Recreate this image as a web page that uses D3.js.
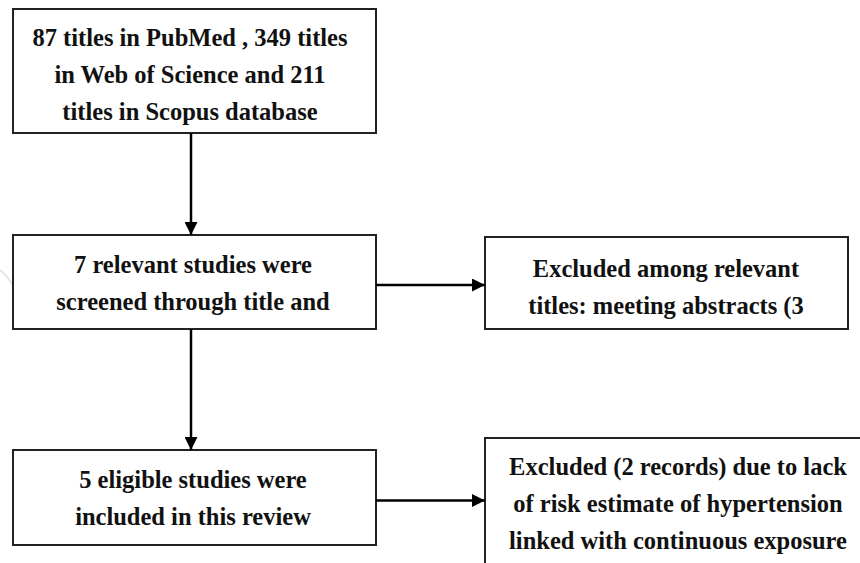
<!DOCTYPE html>
<html>
<head>
<meta charset="utf-8">
<script src="https://cdn.jsdelivr.net/npm/d3@7"></script>
<style>
  body { margin: 0; background: #fff; }
</style>
</head>
<body>
<div class="flow-chart"></div>
<script>
(function() {

    // box texts, one array per box (lines as in the picture)
    var searchLines = ["87 titles in PubMed , 349 titles", "in Web of Science and 211", "titles in Scopus database"];
    var screenLines = ["7 relevant studies were", "screened through title and"];
    var excluded1Lines = ["Excluded among relevant", "titles: meeting abstracts (3"];
    var includedLines = ["5 eligible studies were", "included in this review"];
    var excluded2Lines = ["Excluded (2 records) due to lack", "of risk estimate of hypertension", "linked with continuous exposure"];

    var nodeNames = ["search", "screen", "excluded1", "included", "excluded2"];
    var nodeTexts = [searchLines, screenLines, excluded1Lines, includedLines, excluded2Lines];
    var nodeCols = [0, 0, 1, 0, 1];

    // links between boxes (from -> to)
    var linkFrom = ["search", "screen", "screen", "included"];
    var linkTo = ["screen", "excluded1", "included", "excluded2"];

    var width = 860, height = 563;

    var svg = d3.select(".flow-chart").append("svg")
        .attr("width", width)
        .attr("height", height);

    svg.append("defs").append("marker")
        .attr("id", "arrow")
        .attr("viewBox", "0 0 10 10")
        .attr("refX", 10)
        .attr("refY", 5)
        .attr("markerUnits", "userSpaceOnUse")
        .attr("markerWidth", 13)
        .attr("markerHeight", 13)
        .attr("orient", "auto")
        .append("path")
        .attr("d", "M0,0L10,5L0,10Z")
        .attr("fill", "#000");

    // layout: box geometry per node
    var colX = d3.scaleOrdinal().domain([0, 1]).range([13, 485]);
    var boxW = d3.scaleOrdinal().domain(nodeNames).range([363, 363, 363, 363, 400]);
    var boxTop = d3.scaleOrdinal().domain(nodeNames).range([9, 235, 237, 450, 438]);
    var boxH = d3.scaleOrdinal().domain(nodeNames).range([124, 94, 92, 95, 160]);
    var textCx = d3.scaleOrdinal().domain(nodeNames).range([190, 193, 666, 193, 678]);
    var firstBase = d3.scaleOrdinal().domain(nodeNames).range([46, 273, 277, 488, 475]);
    var lineGap = 37;
    var arrowX = 191;

    var nodes = nodeNames.map(function(n, i) {
        return {
            name: n, lines: nodeTexts[i], col: nodeCols[i],
            x: colX(nodeCols[i]), w: boxW(n), y: boxTop(n), h: boxH(n), cx: textCx(n)
        };
    });
    var byName = {};
    nodes.forEach(function(d) { byName[d.name] = d; });

    // faint background mark at the left edge
    svg.append("path")
        .attr("d", "M0,270 Q8,276 13,286")
        .attr("fill", "none")
        .attr("stroke", "#e4e4e4")
        .attr("stroke-width", 2);

    var g = svg.selectAll(".node")
        .data(nodes)
        .enter().append("g")
        .attr("class", "node");

    g.append("rect")
        .attr("x", function(d) { return d.x; })
        .attr("y", function(d) { return d.y; })
        .attr("width", function(d) { return d.w; })
        .attr("height", function(d) { return d.h; })
        .attr("fill", "#fff")
        .attr("stroke", "#222")
        .attr("stroke-width", 2);

    g.each(function(d) {
        var sel = d3.select(this);
        d.lines.forEach(function(line, i) {
            sel.append("text")
                .attr("x", d.cx)
                .attr("y", firstBase(d.name) + i * lineGap)
                .attr("text-anchor", "middle")
                .attr("font-family", "'Liberation Serif', 'DejaVu Serif', Times, serif")
                .attr("font-weight", "bold")
                .attr("font-size", 24.5)
                .attr("fill", "#111")
                .text(line);
        });
    });

    // arrows
    var links = linkFrom.map(function(f, i) { return { s: byName[f], t: byName[linkTo[i]] }; });
    svg.selectAll(".link")
        .data(links)
        .enter().append("line")
        .attr("class", "link")
        .attr("stroke", "#000")
        .attr("stroke-width", 2.5)
        .attr("marker-end", "url(#arrow)")
        .attr("x1", function(d) { return d.s.col === d.t.col ? arrowX : d.s.x + d.s.w; })
        .attr("x2", function(d) { return d.s.col === d.t.col ? arrowX : d.t.x; })
        .attr("y1", function(d) { return d.s.col === d.t.col ? d.s.y + d.s.h : d.s.y + d.s.h / 2 + 3; })
        .attr("y2", function(d) { return d.s.col === d.t.col ? d.t.y : d.s.y + d.s.h / 2 + 3; });

})();
</script>
</body>
</html>
